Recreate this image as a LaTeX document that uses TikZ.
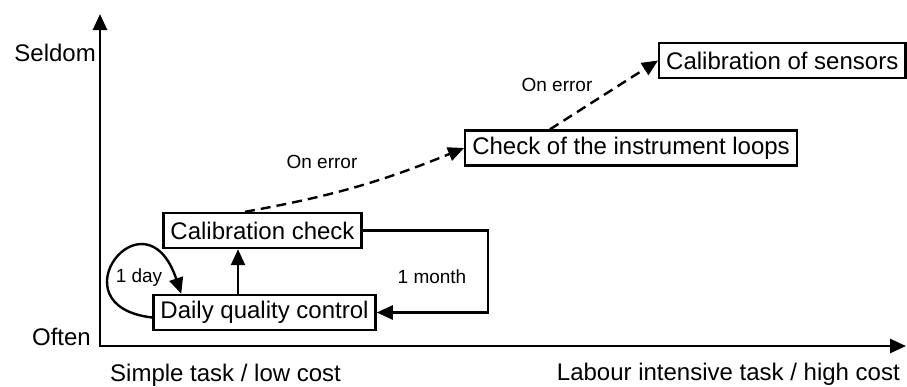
\documentclass[tikz,border=0pt]{standalone}
\usepackage{fontspec}
\setmainfont{Liberation Sans}
\usepackage{tikz}
\usetikzlibrary{arrows.meta}

\begin{document}
\begin{tikzpicture}[x=1pt,y=-1pt,
  task/.style={draw,line width=2.4pt,inner xsep=7pt,inner ysep=0pt,
    minimum height=35pt,font=\fontsize{24}{28}\selectfont},
  lbl/.style={inner sep=0pt,font=\fontsize{24}{28}\selectfont},
  small/.style={inner sep=0pt,font=\fontsize{19}{22}\selectfont},
  arr/.style={line width=2.4pt,-{Triangle[length=16pt,width=14pt]}},
  err/.style={arr,dash pattern=on 10pt off 6pt}]
  \useasboundingbox (0,0) rectangle (907,386);

  % axes
  \coordinate (o) at (100,346);
  \coordinate (ytop) at (100,14);
  \coordinate (xend) at (906,346);
  \draw[line width=2.6pt,{Triangle[length=16pt,width=14pt]}-{Triangle[length=16pt,width=14pt]}]
    (ytop) -- (o) -- (xend);
  \node[lbl,anchor=east] (seldom) at (96,53) {Seldom};
  \node[lbl,anchor=east] (often) at (91,337) {Often};
  \node[lbl,anchor=base west] (simple) at (110,381) {Simple task / low cost};
  \node[lbl,anchor=base east] (labour) at (900,380) {Labour intensive task / high cost};

  % tasks
  \node[task] (dqc) at (264.5,312.5) {Daily quality control};
  \node[task] (cc) at (262.5,230.5) {Calibration check};
  \node[task] (loops) at (631,148) {Check of the instrument loops};
  \node[task,anchor=west] (sens) at (658,60.5) {Calibration of sensors};

  \node[small] (day) at (139,278) {1 day};
  \node[small] (month) at (432,277) {1 month};
  \node[small] (err1) at (322,162) {On error};
  \node[small] (err2) at (557,85) {On error};

  \coordinate (up) at (238,0);
  \coordinate (up2) at (245,0);
  \coordinate (up3) at (550,0);
  \draw[arr] (dqc.north -| up) -- (cc.south -| up);
  \draw[arr] (cc.east) -- ++(125,0) |- (dqc.east);
  \draw[arr] ([yshift=-5pt]dqc.west) .. controls (52,306) and (145,186) .. ([xshift=29pt]dqc.north west);
  \draw[err] (cc.north -| up2) to[bend right=6] (loops.west);
  \draw[err] (loops.north -| up3) -- (sens.west);
\end{tikzpicture}
\end{document}
